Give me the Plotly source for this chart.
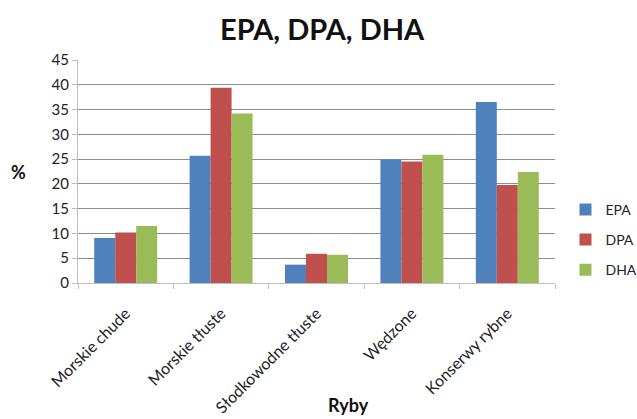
import plotly.graph_objects as go

categories = ["Morskie chude", "Morskie tłuste", "Słodkowodne tłuste", "Wędzone", "Konserwy rybne"]
epa = [9.1, 25.7, 3.7, 24.9, 36.5]
dpa = [10.2, 39.4, 5.9, 24.5, 19.8]
dha = [11.5, 34.2, 5.7, 25.9, 22.4]
series_names = ["EPA", "DPA", "DHA"]
colors = ["#4F81BD", "#C0504D", "#9BBB59"]

fig = go.Figure()
for i, (name, vals) in enumerate(zip(series_names, [epa, dpa, dha])):
    fig.add_trace(go.Bar(
        x=categories, y=vals, name=name,
        marker=dict(color=colors[i], line=dict(width=0)),
        legendgroup=name,
    ))

font_family = "Lato, Liberation Sans, sans-serif"

fig.update_layout(
    width=637, height=419,
    margin=dict(l=78, r=82, t=60, b=136, autoexpand=False),
    paper_bgcolor="white", plot_bgcolor="white",
    barmode="group", bargap=0.34, bargroupgap=0,
    font=dict(family=font_family, size=14, color="#222222"),
    showlegend=True,
    legend=dict(x=1.022, y=0.40, xanchor="left", yanchor="top",
                font=dict(size=14, color="#222222"),
                traceorder="grouped", tracegroupgap=9,
                itemwidth=30, borderwidth=0, bgcolor="rgba(0,0,0,0)"),
    xaxis=dict(
        automargin=False,
        showline=True, linecolor="#BFBFBF", linewidth=1,
        ticks="outside", ticklen=5, tickcolor="#BFBFBF", tickson="boundaries",
        tickangle=-45, tickfont=dict(size=16, color="#222222"),
        ticklabelstandoff=14, ticklabelshift=0,
        showgrid=False,
    ),
    yaxis=dict(
        automargin=False,
        range=[0, 45], dtick=5,
        showline=True, linecolor="#BFBFBF", linewidth=1,
        ticks="outside", ticklen=5, tickcolor="#BFBFBF",
        showgrid=True, gridcolor="#8C8C8C", gridwidth=1,
        zeroline=False,
        tickfont=dict(size=15, color="#222222"),
    ),
    annotations=[
        dict(text="<b>EPA, DPA, DHA</b>", x=322, y=28, showarrow=False,
             font=dict(size=29, color="#111111")),
        dict(text="<b>%</b>", x=18, y=172, showarrow=False,
             font=dict(size=18, color="#111111")),
        dict(text="<b>Ryby</b>", x=348, y=405, showarrow=False,
             font=dict(size=18, color="#111111")),
    ],
)

# convert pixel-based annotation positions to paper coords
pw, ph = 637 - 78 - 82, 419 - 60 - 136
for ann in fig.layout.annotations:
    px, py = ann.x, ann.y
    ann.x = (px - 78) / pw
    ann.y = (419 - 136 - py) / ph
    ann.xref = "paper"; ann.yref = "paper"
    ann.xanchor = "center"; ann.yanchor = "middle"

fig.write_html("out.html",
               config={"displayModeBar": False},
               post_script="document.body.style.margin='0';document.body.style.overflow='hidden';")
